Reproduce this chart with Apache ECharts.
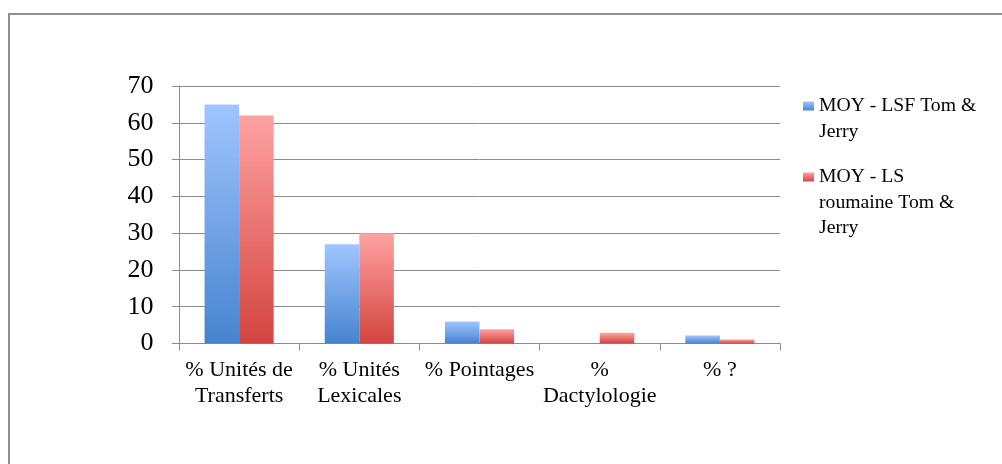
<!DOCTYPE html>
<html>
<head>
<meta charset="utf-8">
<script src="https://cdn.jsdelivr.net/npm/echarts@6/dist/echarts.min.js"></script>
<style>html,body{margin:0;padding:0;background:#fff;}#c{width:1002px;height:464px;}</style>
</head>
<body>
<div id="c"></div>
<script>
var categories = ['% Unités de\nTransferts', '% Unités\nLexicales', '% Pointages', '%\nDactylologie', '% ?'];
var seriesNames = ['MOY - LSF Tom & Jerry', 'MOY - LS roumaine Tom & Jerry'];
var legendLines = [['MOY - LSF Tom &', 'Jerry'], ['MOY - LS', 'roumaine Tom &', 'Jerry']];
var lsfValues = [65, 27, 6, 0, 2.2];
var lsRoumaineValues = [62, 30, 3.9, 2.9, 1.1];
var yTicks = [0, 10, 20, 30, 40, 50, 60, 70];

var font = '"Liberation Serif", "Times New Roman", serif';
var chart = echarts.init(document.getElementById('c'));
function grad(top, bottom) {
  return new echarts.graphic.LinearGradient(0, 0, 0, 1, [
    {offset: 0, color: top}, {offset: 1, color: bottom}
  ]);
}
var LH = 25.5;
// pad with leading empty lines so the first text line sits on the icon's centre line
function legendText(name) {
  var lines = legendLines[seriesNames.indexOf(name)];
  var pad = [];
  for (var i = 1; i < lines.length; i++) pad.push('');
  return pad.concat(lines).join('\n');
}
var icon1 = 106, icon2 = 177;
var h1 = (2 * legendLines[0].length - 1) * LH, h2 = (2 * legendLines[1].length - 1) * LH;
chart.setOption({
  animation: false,
  backgroundColor: '#fff',
  graphic: [{
    type: 'rect',
    shape: {x: 9, y: 14, width: 1100, height: 600},
    style: {fill: 'none', stroke: '#8e8e8e', lineWidth: 2},
    silent: true
  }],
  legend: {
    orient: 'vertical',
    left: 803,
    top: icon1 - h1 / 2,
    padding: 0,
    itemWidth: 11,
    itemHeight: 9,
    itemGap: (icon2 - icon1) - h1 / 2 - h2 / 2,
    icon: 'rect',
    formatter: legendText,
    data: seriesNames,
    textStyle: {fontFamily: font, fontSize: 19.7, lineHeight: LH, color: '#000'}
  },
  grid: {left: 179, right: 222, top: 86, bottom: 120.5},
  xAxis: {
    type: 'category',
    data: categories,
    axisLine: {show: true, lineStyle: {color: '#8c8c8c', width: 1}},
    axisTick: {show: true, length: 7, alignWithLabel: false, lineStyle: {color: '#8c8c8c'}},
    axisLabel: {fontFamily: font, fontSize: 22, lineHeight: 26, color: '#000', margin: 14, interval: 0}
  },
  yAxis: {
    type: 'value',
    min: yTicks[0],
    max: yTicks[yTicks.length - 1],
    interval: yTicks[1] - yTicks[0],
    axisLine: {show: true, lineStyle: {color: '#8c8c8c', width: 1}},
    axisTick: {show: true, length: 7, lineStyle: {color: '#8c8c8c'}},
    splitLine: {show: true, lineStyle: {color: '#8c8c8c', width: 1}},
    axisLabel: {fontFamily: font, fontSize: 26, color: '#000', margin: 25.5}
  },
  series: [
    {
      name: seriesNames[0], type: 'bar', data: lsfValues,
      barGap: '0%', barCategoryGap: '42.5%',
      itemStyle: {color: grad('#a0c5ff', '#4684d0')}
    },
    {
      name: seriesNames[1], type: 'bar', data: lsRoumaineValues,
      barGap: '0%', barCategoryGap: '42.5%',
      itemStyle: {color: grad('#ffa2a2', '#d3443f')}
    }
  ]
});
</script>
</body>
</html>
